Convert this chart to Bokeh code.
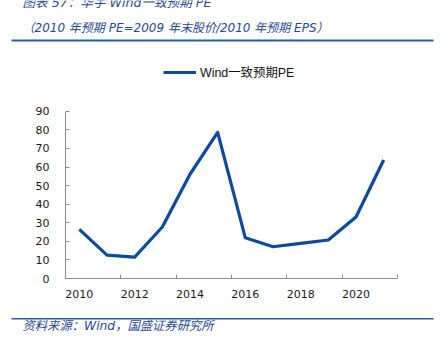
from bokeh.plotting import figure
from bokeh.layouts import column
from bokeh.models import FixedTicker, Legend, LegendItem, Range1d
from bokeh.core.properties import value
from bokeh.embed import file_html
from bokeh.resources import INLINE

# ---- data ----
years = [2010, 2011, 2012, 2013, 2014, 2015, 2016, 2017, 2018, 2019, 2020, 2021]
pe = [26.4, 12.6, 11.5, 27.7, 56.1, 78.6, 21.9, 17.1, 18.9, 20.7, 33.1, 63.8]
x_label_years = [2010, 2012, 2014, 2016, 2018, 2020]
y_ticks = [0, 10, 20, 30, 40, 50, 60, 70, 80, 90]
series_name = "Wind一致预期PE"
title1 = "图表 57：华宇 Wind一致预期 PE"
title2 = "（2010 年预期 PE=2009 年末股价/2010 年预期 EPS）"
source_text = "资料来源：Wind，国盛证券研究所"

W = 448
TOP_H, MAIN_H, BOT_H = 45, 270, 28
BLUE_TXT = "#1f4a9a"
RULE = "#2a5ba8"
FONT_MIX = "DejaVu Sans, Noto Sans CJK SC"
AX_COL = "#8c8c8c"
TXT_COL = "#1a1a1a"


def deco_fig(h, y0):
    f = figure(width=W, height=h, output_backend="svg", toolbar_location=None,
               x_range=Range1d(0, W), y_range=Range1d(y0 + h, y0),
               x_axis_type=None, y_axis_type=None, frame_align=False,
               min_border=0, min_border_left=0, min_border_right=0,
               min_border_top=0, min_border_bottom=0)
    f.outline_line_color = None
    f.grid.visible = False
    f.background_fill_color = "white"
    f.border_fill_color = "white"
    return f


# ---- header ----
top = deco_fig(TOP_H, 0)
top.text(x=[22], y=[1.5], text=[title1], text_font=value(FONT_MIX),
         text_font_size="12.6px", text_font_style="italic", text_color=BLUE_TXT,
         text_baseline="alphabetic", text_align="left")
top.text(x=[22], y=[27.5], text=[title2], text_font=value(FONT_MIX),
         text_font_size="12px", text_font_style="italic", text_color=BLUE_TXT,
         text_baseline="middle", text_align="left")
top.segment(x0=[11], x1=[433], y0=[40], y1=[40], line_color=RULE, line_width=2)

# ---- main chart ----
FL, FR = 65, 397
p = figure(width=W, height=MAIN_H, output_backend="svg", toolbar_location=None,
           x_range=Range1d(years[0] - 0.5, years[-1] + 0.5),
           y_range=Range1d(0, 120), frame_align=False,
           min_border_left=FL, min_border_right=W - FR, min_border_top=10,
           min_border_bottom=37)
p.outline_line_color = None
p.xgrid.visible = False
p.ygrid.visible = False
p.background_fill_color = "white"
p.border_fill_color = "white"

r = p.line(years, pe, line_color="#0B4A9E", line_width=3.2, line_join="round")

xa = p.xaxis[0]
minor = [y + 0.5 for y in [years[0] - 1] + years[1::2]]
xa.ticker = FixedTicker(ticks=x_label_years, minor_ticks=minor)
xa.major_tick_in = 0
xa.major_tick_out = 0
xa.minor_tick_in = 4
xa.minor_tick_out = 0
xa.minor_tick_line_color = AX_COL
xa.axis_line_color = AX_COL
xa.major_label_standoff = 11
xa.major_label_text_font = "DejaVu Sans"
xa.major_label_text_font_size = "11px"
xa.major_label_text_color = TXT_COL

ya = p.yaxis[0]
ya.ticker = FixedTicker(ticks=y_ticks)
ya.bounds = (y_ticks[0], y_ticks[-1])
ya.major_tick_in = 4
ya.major_tick_out = 0
ya.minor_tick_line_color = None
ya.major_tick_line_color = AX_COL
ya.axis_line_color = AX_COL
ya.major_label_standoff = 16
ya.major_label_text_font = "DejaVu Sans"
ya.major_label_text_font_size = "11px"
ya.major_label_text_color = TXT_COL

leg = Legend(items=[LegendItem(label=series_name, renderers=[r])],
             location=(163 - FL, 197), orientation="horizontal",
             glyph_width=33, glyph_height=14, label_standoff=4,
             label_height=14,
             label_text_font="Liberation Sans, Noto Sans CJK SC",
             label_text_font_size="12.4px", label_text_color="#111111",
             padding=0, margin=0, spacing=0,
             border_line_color=None, background_fill_alpha=0)
p.add_layout(leg)

# ---- footer ----
bot = deco_fig(BOT_H, TOP_H + MAIN_H)
bot.segment(x0=[11], x1=[433], y0=[318.3], y1=[318.3], line_color=RULE, line_width=1.6)
bot.text(x=[22], y=[325.5], text=[source_text], text_font=value(FONT_MIX),
         text_font_size="12.3px", text_font_style="italic", text_color=BLUE_TXT,
         text_baseline="middle", text_align="left")

layout = column(top, p, bot, spacing=0)
open("out.html", "w").write(file_html(layout, INLINE))
